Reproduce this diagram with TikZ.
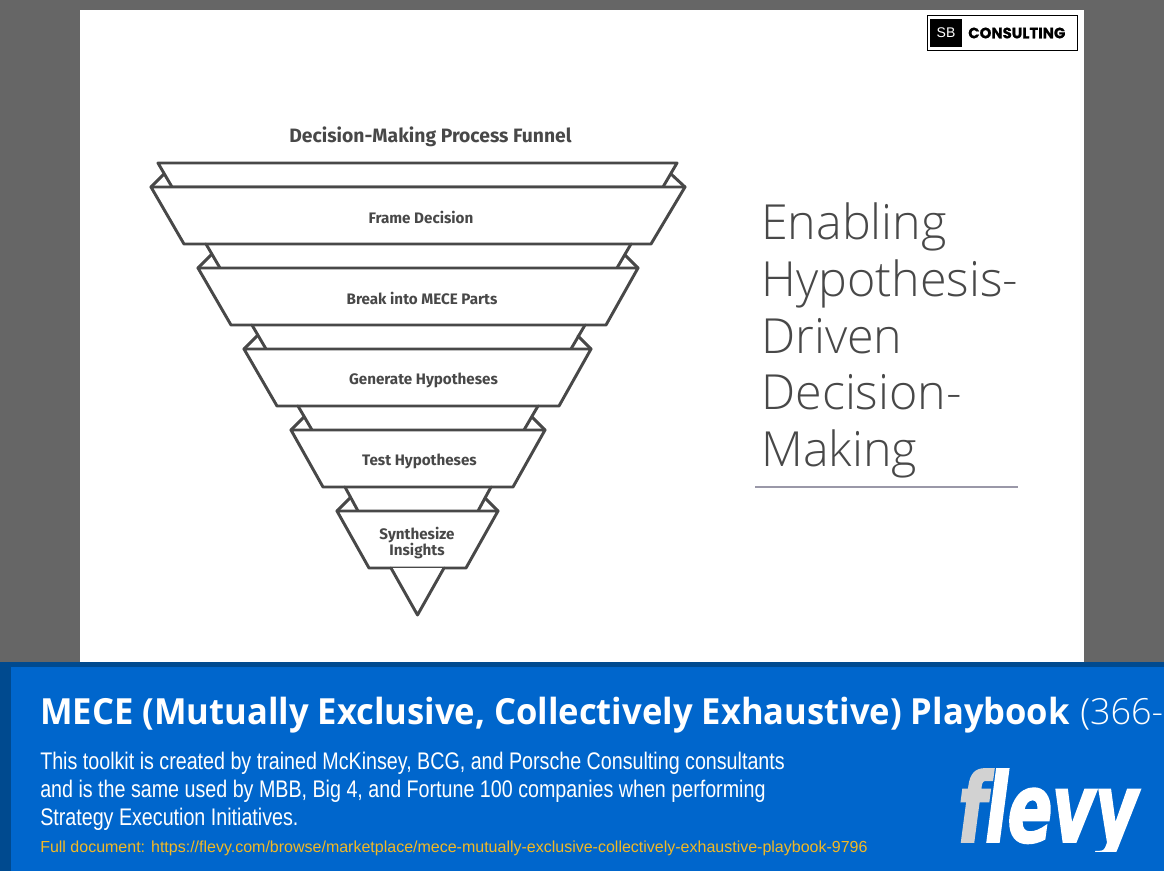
\documentclass[tikz,border=0pt]{standalone}
\usepackage{fontspec}
\setmainfont{Liberation Sans}
\newfontfamily\handfont{Fira Sans}
\newfontfamily\lightfont{Open Sans Light}
\newfontfamily\headfont[FakeStretch=0.96]{Open Sans}
\newfontfamily\bodyfont[FakeStretch=0.82]{Liberation Sans}
\newfontfamily\flevyfont[FakeBold=2,FakeStretch=0.76]{DejaVu Sans Condensed}
\newfontfamily\logofont[FakeBold=0.8]{Poppins}
\definecolor{slidegrey}{HTML}{666666}
\definecolor{darkblue}{HTML}{004A8F}
\definecolor{flevyblue}{HTML}{0066CC}
\definecolor{ink}{HTML}{484848}
\definecolor{rulegrey}{HTML}{9A98A8}
\definecolor{linkgold}{HTML}{F2B824}
\definecolor{flevygrey}{HTML}{D2D2D2}
\tikzset{
  bandline/.style={draw=ink,line width=2.2pt,line join=round,line cap=round,fill=white},
  bandlabel/.style={text=ink,font=\handfont\bfseries\fontsize{11.4}{12}\selectfont,align=center,inner sep=0pt},
  headline/.style={anchor=base west,inner sep=0pt,text=ink,font=\lightfont\fontsize{36.3}{42}\selectfont},
  bannertext/.style={anchor=base west,inner sep=0pt,text=white},
  bodyline/.style={bannertext,font=\bodyfont\fontsize{18}{20}\selectfont},
}
\newcommand{\funnelband}[9]{%
  % #1 top y, #2 #3 back top left/right, #4 #5 back bottom left/right
  % #6 #7 front top left/right, #8 #9 front bottom left/right
  \draw[bandline,fill=none] (#2,#1) -- (#4,#1+24);
  \draw[bandline,fill=none] (#3,#1) -- (#5,#1+24);
  \draw[bandline,fill=none] (#6,#1+24) -- (#6+13,#1+11);
  \draw[bandline,fill=none] (#7,#1+24) -- (#7-13,#1+11);
  \draw[bandline] (#6,#1+24) -- (#7,#1+24) -- (#9,#1+81) -- (#8,#1+81) -- cycle;
}
\begin{document}
\begin{tikzpicture}[x=0.75pt,y=-0.75pt]
\useasboundingbox (0,0) rectangle (1164,871);
\fill[slidegrey] (0,0) rectangle (1164,871);
\fill[white] (80,10) rectangle (1084,662);

% logo
\draw[black,line width=1.3pt,fill=white] (927.5,15.5) rectangle (1077.5,50.5);
\node[fill=black,minimum width=24pt,minimum height=21pt,inner sep=0pt,text=white,font=\fontsize{10.5}{12}\selectfont] (sb) at (946,33) {SB};
\node[anchor=west,inner sep=0pt,text=black,font=\logofont\bfseries\fontsize{11.2}{12}\selectfont] (consulting) at (968,33) {CONSULTING};

% funnel
\node[bandlabel,font=\handfont\bfseries\fontsize{14.5}{15}\selectfont] (title) at (430.5,136.5) {Decision-Making Process Funnel};

\draw[bandline,fill=none] (151,187) -- (164,174);
\draw[bandline,fill=none] (685,187) -- (671,174);
\draw[bandline] (158,163) -- (677,163) -- (663,187) -- (172,187) -- cycle;
\draw[bandline] (151,187) -- (685,187) -- (651,244) -- (184,244) -- cycle;
\funnelband{244}{206}{631}{220}{617}{198}{638}{231}{606}
\funnelband{325}{252}{585}{266}{571}{244}{591}{277}{559}
\funnelband{406}{298}{538}{312}{524}{291}{545}{323}{513}
\funnelband{487}{345}{491}{358}{478}{337}{498}{369}{466}
\draw[bandline] (391,568) -- (417.5,615) -- (444,568);

\node[bandlabel] (l1) at (421,217.5) {Frame Decision};
\node[bandlabel] (l2) at (422,298.5) {Break into MECE Parts};
\node[bandlabel] (l3) at (423.5,380.5) {Generate Hypotheses};
\node[bandlabel] (l4) at (419.5,461.5) {Test Hypotheses};
\node[bandlabel] (l5) at (417,543) {Synthesize\\Insights};

% heading on the right
\node[headline] (h1) at (761,239.5) {Enabling};
\node[headline] (h2) at (761,296) {Hypothesis-};
\node[headline] (h3) at (761,353) {Driven};
\node[headline] (h4) at (761,409.5) {Decision-};
\node[headline] (h5) at (761,466) {Making};
\draw[rulegrey,line width=1.2pt] (755,487) -- (1018,487);

% banner
\fill[darkblue] (0,662) rectangle (1164,871);
\fill[flevyblue] (11,667) rectangle (1164,871);
\node[bannertext,font=\headfont\bfseries\fontsize{27}{30}\selectfont] (t1) at (40,724) {MECE (Mutually Exclusive, Collectively Exhaustive) Playbook};
\node[bannertext,font=\lightfont\fontsize{27}{30}\selectfont] (t2) at (1080,724) {(366-};
\node[bodyline] (b1) at (40,769) {This toolkit is created by trained McKinsey, BCG, and Porsche Consulting consultants};
\node[bodyline] (b2) at (40,797) {and is the same used by MBB, Big 4, and Fortune 100 companies when performing};
\node[bodyline] (b3) at (40,825) {Strategy Execution Initiatives.};
\node[bannertext,text=linkgold,font=\fontsize{12}{14}\selectfont] (link) at (40,852) {Full document: https://flevy.com/browse/marketplace/mece-mutually-exclusive-collectively-exhaustive-playbook-9796};
\begin{scope}
\clip (950,760) rectangle (1164,851);
\node[bannertext,text=flevygrey,font=\flevyfont\bfseries\itshape\fontsize{72}{72}\selectfont] (f) at (958,842) {f};
\node[bannertext,font=\flevyfont\bfseries\itshape\fontsize{72}{72}\selectfont] (levy) at (985,842) {levy};
\end{scope}
\end{tikzpicture}
\end{document}
